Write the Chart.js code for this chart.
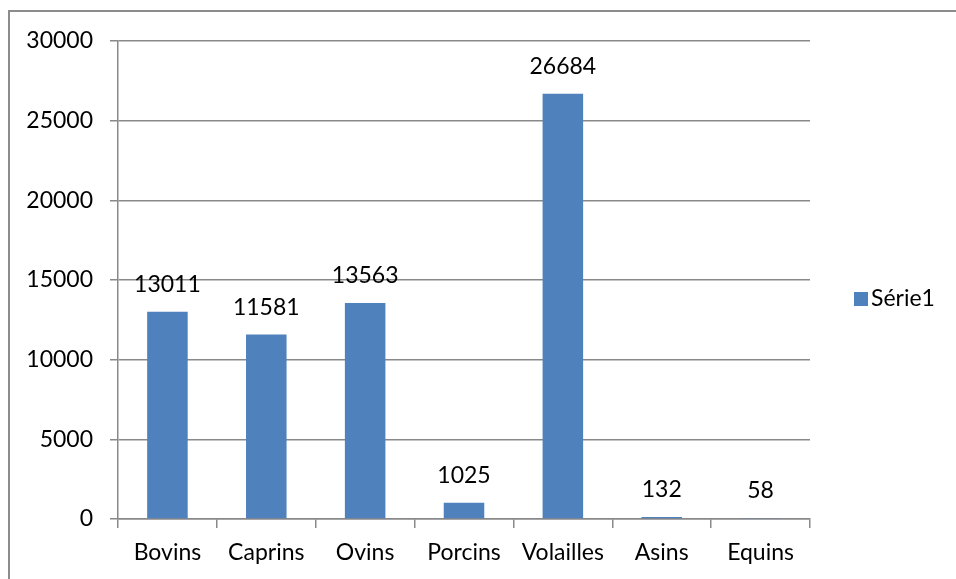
<!DOCTYPE html>
<html>
<head>
<meta charset="utf-8">
<script src="https://cdn.jsdelivr.net/npm/chart.js@4.4.1/dist/chart.umd.min.js"></script>
<style>
  html, body { margin: 0; padding: 0; background: #fff; }
  #wrap { width: 956px; height: 579px; }
</style>
</head>
<body>
<div id="wrap"><canvas id="c" width="956" height="579"></canvas></div>
<script>
// Données du graphique
const categories = ['Bovins', 'Caprins', 'Ovins', 'Porcins', 'Volailles', 'Asins', 'Equins'];
const serie1 = [13011, 11581, 13563, 1025, 26684, 132, 58];
const seriesName = 'Série1';

const FONT = 'Lato, "Open Sans", sans-serif';
const GRID = '#898989';
const BAR = '#4f81bd';

// Cadre gris autour du graphique (coin haut gauche seulement visible)
const framePlugin = {
  id: 'frame',
  beforeDraw(chart) {
    const ctx = chart.ctx;
    ctx.save();
    ctx.strokeStyle = '#8c8c8c';
    ctx.lineWidth = 2;
    ctx.strokeRect(9, 11, 1000, 1000);
    ctx.restore();
  }
};

// Étiquettes de valeur au-dessus des barres
const labelsPlugin = {
  id: 'valueLabels',
  afterDatasetsDraw(chart) {
    const ctx = chart.ctx;
    const meta = chart.getDatasetMeta(0);
    ctx.save();
    ctx.font = '23px ' + FONT;
    ctx.fillStyle = '#000';
    ctx.textAlign = 'center';
    ctx.textBaseline = 'middle';
    meta.data.forEach((bar, i) => {
      ctx.fillText(String(chart.data.datasets[0].data[i]), bar.x, bar.y - 27);
    });
    ctx.restore();
  }
};

// Légende à droite
const legendPlugin = {
  id: 'sideLegend',
  afterDraw(chart) {
    const ctx = chart.ctx;
    const ds = chart.data.datasets[0];
    ctx.save();
    ctx.fillStyle = ds.backgroundColor;
    ctx.fillRect(854, 292, 14, 14);
    ctx.font = '23px ' + FONT;
    ctx.fillStyle = '#000';
    ctx.textAlign = 'left';
    ctx.textBaseline = 'middle';
    ctx.fillText(ds.label, 871, 299);
    ctx.restore();
  }
};

new Chart(document.getElementById('c').getContext('2d'), {
  type: 'bar',
  data: {
    labels: categories,
    datasets: [{
      label: seriesName,
      data: serie1,
      backgroundColor: BAR,
      borderWidth: 0,
      categoryPercentage: 1,
      barPercentage: 0.41
    }]
  },
  options: {
    responsive: false,
    animation: false,
    devicePixelRatio: 1,
    layout: { padding: { left: 0, right: 146, top: 41, bottom: 0 } },
    plugins: {
      legend: { display: false },
      tooltip: { enabled: false }
    },
    scales: {
      x: {
        afterFit(scale) { scale.height = 60; },
        grid: {
          offset: true,
          drawOnChartArea: false,
          drawTicks: true,
          tickLength: 9,
          color: GRID,
          lineWidth: 1.5
        },
        border: { color: GRID, width: 1.5 },
        ticks: { color: '#000', font: { family: FONT, size: 23 }, padding: 11, maxRotation: 0 }
      },
      y: {
        min: 0,
        max: 30000,
        afterFit(scale) { scale.width = 118; },
        ticks: {
          stepSize: 5000,
          color: '#000',
          font: { family: FONT, size: 23 },
          padding: 17,
          callback: v => String(v)
        },
        grid: { color: GRID, lineWidth: 1.5, tickLength: 8 },
        border: { color: GRID, width: 1.5 }
      }
    }
  },
  plugins: [framePlugin, labelsPlugin, legendPlugin]
});
</script>
</body>
</html>
